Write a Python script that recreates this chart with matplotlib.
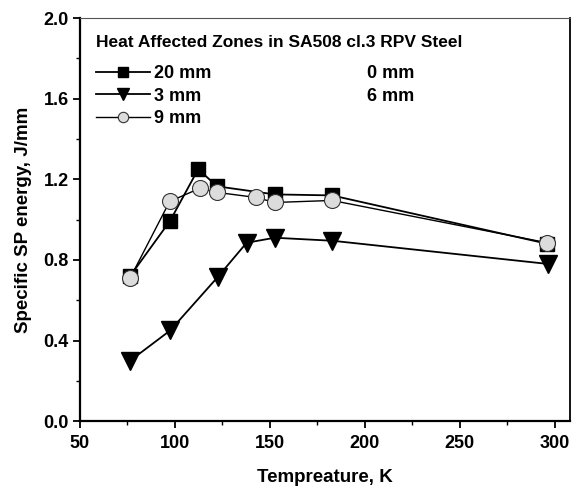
import matplotlib
matplotlib.use("Agg")
import matplotlib.pyplot as plt
from matplotlib.lines import Line2D
from matplotlib.ticker import MultipleLocator, FormatStrFormatter

plt.rcParams['font.family'] = ['Liberation Sans', 'DejaVu Sans']
plt.rcParams['font.weight'] = 'bold'

# Data
t_20 = [76.5, 97.6, 112.3, 122.3, 152.6, 182.8, 296.0]
e_20 = [0.72, 0.995, 1.25, 1.165, 1.125, 1.12, 0.88]
t_3 = [76.5, 97.6, 122.6, 137.8, 152.6, 183.0, 296.4]
e_3 = [0.30, 0.45, 0.715, 0.885, 0.91, 0.895, 0.78]
t_9 = [76.5, 97.3, 113.1, 122.3, 142.6, 152.6, 182.8, 296.0]
e_9 = [0.71, 1.09, 1.155, 1.135, 1.11, 1.085, 1.095, 0.885]
legend_title = "Heat Affected Zones in SA508 cl.3 RPV Steel"
labels = ["20 mm", "3 mm", "9 mm", "0 mm", "6 mm"]

fig = plt.figure(figsize=(5.74, 4.88), dpi=100)
ax = fig.add_axes([0.139, 0.137, 0.854, 0.826])

l20, = ax.plot(t_20, e_20, '-', color='black', lw=1.3, marker='s', ms=10.3,
               mfc='black', mec='black', zorder=3)
l3, = ax.plot(t_3, e_3, '-', color='black', lw=1.3, marker='v', ms=13.5,
              mfc='black', mec='black', zorder=3)
l9, = ax.plot(t_9, e_9, '-', color='black', lw=1.0, marker='o', ms=11.5,
              mfc='#dcdcdc', mec='#333333', mew=0.8, zorder=4)

ax.set_xlim(50, 308)
ax.set_ylim(0.0, 2.0)
ax.xaxis.set_major_locator(MultipleLocator(50))
ax.xaxis.set_minor_locator(MultipleLocator(25))
ax.yaxis.set_major_locator(MultipleLocator(0.4))
ax.yaxis.set_minor_locator(MultipleLocator(0.2))
ax.yaxis.set_major_formatter(FormatStrFormatter('%.1f'))

ax.tick_params(which='major', direction='out', length=5, width=1.3,
               labelsize=13)
ax.tick_params(axis='x', which='major', pad=5)
ax.tick_params(axis='y', which='major', pad=3)
ax.tick_params(which='minor', direction='out', length=3, width=1.0)
for lab in ax.get_xticklabels() + ax.get_yticklabels():
    lab.set_fontweight('bold')

ax.spines['left'].set_linewidth(1.6)
ax.spines['bottom'].set_linewidth(1.6)
ax.spines['right'].set_linewidth(1.3)
ax.spines['top'].set_linewidth(0.8)
ax.spines['top'].set_color('#555555')

ax.set_xlabel("Tempreature, K", fontsize=13.5, fontweight='bold', labelpad=12)
ax.set_ylabel("Specific SP energy, J/mm", fontsize=13.5, fontweight='bold', labelpad=8)

blank1 = Line2D([], [], linestyle='none', marker='none')
blank2 = Line2D([], [], linestyle='none', marker='none')
leg = ax.legend([l20, l3, l9, blank1, blank2], labels, ncol=2, title=legend_title,
                loc='upper left', bbox_to_anchor=(0.01, 0.985), frameon=False,
                fontsize=13, title_fontproperties={'weight': 'bold', 'size': 12.5},
                handlelength=3.0, handletextpad=0.25, columnspacing=5.35,
                labelspacing=0.3, markerscale=0.65, alignment='left',
                borderaxespad=0.2)
leg._legend_box.sep = 11
for txt in leg.get_texts():
    txt.set_fontweight('bold')

fig.savefig("out.png", dpi=100)
